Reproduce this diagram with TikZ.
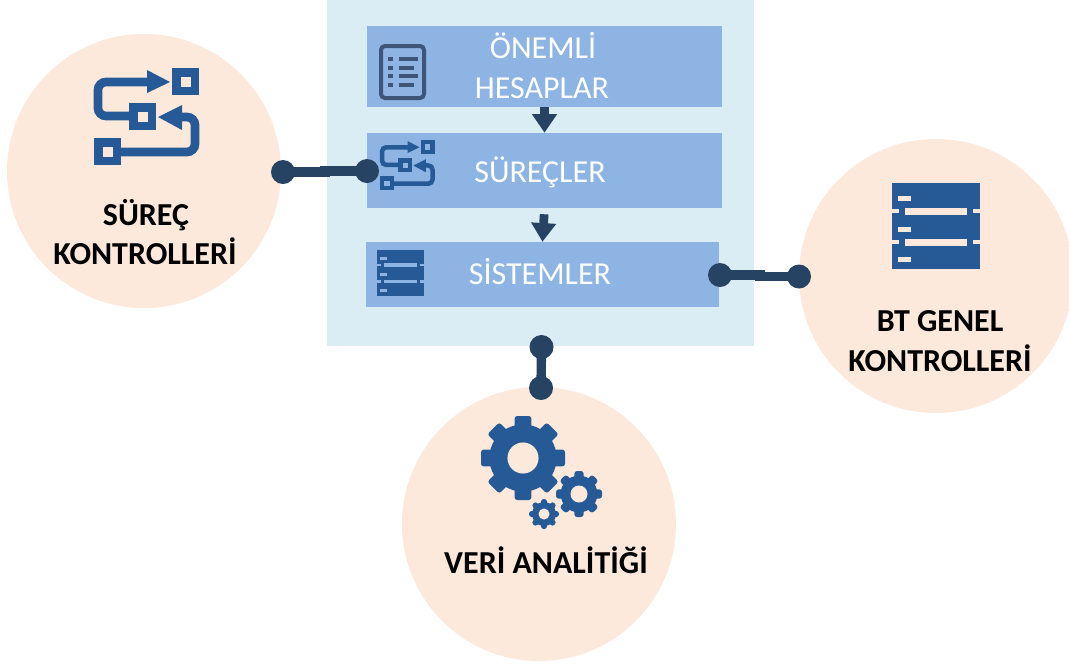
\documentclass[tikz,border=0pt]{standalone}
\usepackage{fontspec}
\setmainfont{Carlito}
\usetikzlibrary{arrows.meta}
\definecolor{panelc}{HTML}{DAEDF4}
\definecolor{boxc}{HTML}{8EB4E3}
\definecolor{peach}{HTML}{FDE9DB}
\definecolor{navy}{HTML}{264364}
\definecolor{iconb}{HTML}{265A96}
\definecolor{docc}{HTML}{3F5578}
\tikzset{
  x=0.75pt,y=-0.75pt,
  panel/.style={fill=panelc,draw=none,minimum width=320.25pt,minimum height=259.5pt,inner sep=0pt},
  bluebox/.style={fill=boxc,draw=none,inner sep=0pt},
  blob/.style={circle,fill=peach,draw=none,minimum size=205.5pt,inner sep=0pt},
  dot/.style={circle,fill=navy,draw=none,minimum size=18pt,inner sep=0pt},
  link/.style={draw=navy,line width=7pt},
  flowdown/.style={draw=navy,line width=6.5pt,-{Triangle[width=18pt,length=14pt]}},
  boxtext/.style={text=white,font=\fontsize{24}{26}\selectfont,anchor=base,inner sep=0pt},
  headtext/.style={text=black,font=\fontsize{24}{26}\selectfont\bfseries,anchor=base,inner sep=0pt},
}
\newcommand\flowicon[4]{%
\begin{scope}[shift={(#1,#2)},scale=#3]
  \draw[iconb,line width=#3*6.5pt,rounded corners=#3*6pt] (55,14) -- (4,14) -- (4,48) -- (40,48);
  \draw[iconb,line width=#3*6.5pt,rounded corners=#3*6pt] (25,84) -- (101,84) -- (101,49) -- (85,49);
  \fill[iconb] (53,2) -- (76,14) -- (53,25) -- cycle;
  \fill[iconb] (64,49) -- (88,37) -- (88,62) -- cycle;
  \foreach \a/\b in {78/0,35/35,0/70}{
    \fill[iconb] (\a,\b) rectangle ++(27,27);
    \fill[#4] (\a+8.5,\b+8.5) rectangle ++(10.5,10.5);
  }
\end{scope}}
\newcommand\servericon[4]{%
\begin{scope}[shift={(#1,#2)},scale=#3]
  \fill[iconb] (0,0) rectangle (88,86);
  \foreach \b in {24,55}{
    \fill[#4] (13,\b+0.5) rectangle (75,\b+7.5);
    \fill[#4] (0,\b+2) rectangle (7,\b+6);
    \fill[#4] (81,\b+2) rectangle (88,\b+6);
  }
  \foreach \b in {13,44,74}{
    \fill[#4] (6,\b-0.5) rectangle (19,\b+5);
  }
\end{scope}}
\newcommand\gearicon[3]{%
\begin{scope}[shift={(#1,#2)}]
  \fill[iconb] (0,0) circle[radius=#3*0.8];
  \foreach \t in {0,45,...,315}{
    \fill[iconb,rotate=\t,rounded corners=2pt] (-#3*0.2,0) rectangle (#3*0.2,#3);
  }
  \fill[peach] (0,0) circle[radius=#3*0.37];
\end{scope}}
\begin{document}
\begin{tikzpicture}
\clip (0,0) rectangle (1069,668);
\useasboundingbox (0,0) rectangle (1069,668);
\fill[white] (0,0) rectangle (1069,668);

\node[panel] (pan) at (540.5,173) {};
\node[blob] (left) at (144,171) {};
\node[blob] (right) at (936,276) {};
\node[blob] (bottom) at (539,524) {};

\node[bluebox,minimum width=266.25pt,minimum height=60.75pt] (b1) at (544.5,66.5) {};
\node[bluebox,minimum width=266.25pt,minimum height=56.25pt] (b2) at (544.5,170.5) {};
\node[bluebox,minimum width=264.75pt,minimum height=48.75pt] (b3) at (542.5,274.5) {};

\node[boxtext] (t1a) at (543,58) {ÖNEMLİ};
\node[boxtext] (t1b) at (542,98) {HESAPLAR};
\node[boxtext] (t2) at (540,182) {SÜREÇLER};
\node[boxtext] (t3) at (540,284) {SİSTEMLER};

\node[headtext] (h1a) at (146,225) {SÜREÇ};
\node[headtext] (h1b) at (145,264) {KONTROLLERİ};
\node[headtext] (h2a) at (940,331) {BT GENEL};
\node[headtext] (h2b) at (940,371) {KONTROLLERİ};
\node[headtext] (h3) at (546,573) {VERİ ANALİTİĞİ};

\draw[docc,line width=3pt,rounded corners=3pt] (381,46) rectangle (424,98);
\foreach \y/\e in {59/418,68/414,76/418,85/414}{
  \fill[docc] (388,\y-2) rectangle (393,\y+2);
  \fill[docc] (399,\y-2) rectangle (\e,\y+2);
}

\flowicon{94}{68}{1}{peach}
\flowicon{380}{140}{0.52}{boxc}
\servericon{892}{183}{1}{peach}
\servericon{377}{250}{0.534}{boxc}
\gearicon{523}{458}{42}
\gearicon{579}{494}{23}
\gearicon{544}{514}{15}

\draw[flowdown] (b1.south) -- (b2.north);
\draw[flowdown,shorten <=4.5pt] (b2.south) -- (b3.north);

\node[dot] (d1) at (283,172) {};
\node[dot] (d2) at (367,171) {};
\coordinate (m1) at (325,172);
\draw[link] (d1.center) -- (m1) |- (d2.center);
\node[dot] (d3) at (720,275) {};
\node[dot] (d4) at (799,276.5) {};
\coordinate (m2) at (760,275);
\draw[link] (d3.center) -- (m2) |- (d4.center);
\node[dot] (d5) at (541.5,347) {};
\node[dot] (d6) at (541,388) {};
\draw[link] (d5.center) -- (d6.center);
\end{tikzpicture}
\end{document}
